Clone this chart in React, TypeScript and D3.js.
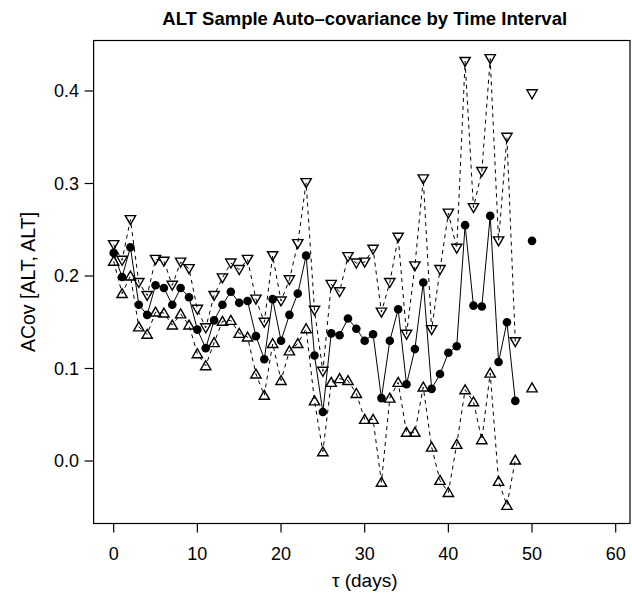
import React from "react";
import * as d3 from "d3";

// lag in days (49 is missing)
const lags = [
  0, 1, 2, 3, 4, 5, 6, 7, 8, 9, 10, 11, 12, 13, 14, 15, 16, 17, 18, 19, 20,
  21, 22, 23, 24, 25, 26, 27, 28, 29, 30, 31, 32, 33, 34, 35, 36, 37, 38, 39,
  40, 41, 42, 43, 44, 45, 46, 47, 48, 49, 50,
];

const acov = [
  0.225, 0.199, 0.231, 0.169, 0.158, 0.19, 0.187, 0.169, 0.187, 0.177, 0.142,
  0.122, 0.152, 0.169, 0.183, 0.171, 0.173, 0.135, 0.11, 0.175, 0.13, 0.158,
  0.181, 0.222, 0.114, 0.053, 0.138, 0.136, 0.154, 0.143, 0.13, 0.137, 0.068,
  0.13, 0.164, 0.083, 0.121, 0.193, 0.078, 0.094, 0.117, 0.124, 0.255, 0.168,
  0.167, 0.265, 0.107, 0.15, 0.065, null, 0.238,
];

const upper = [
  0.234, 0.217, 0.261, 0.193, 0.179, 0.218, 0.216, 0.19, 0.215, 0.208, 0.164,
  0.144, 0.179, 0.198, 0.214, 0.207, 0.218, 0.175, 0.15, 0.222, 0.173, 0.196,
  0.235, 0.301, 0.163, 0.097, 0.191, 0.183, 0.221, 0.214, 0.215, 0.229, 0.161,
  0.193, 0.242, 0.137, 0.211, 0.305, 0.142, 0.207, 0.268, 0.23, 0.432, 0.274,
  0.313, 0.435, 0.238, 0.35, 0.129, null, 0.397,
];

const lower = [
  0.216, 0.181, 0.2, 0.145, 0.137, 0.161, 0.16, 0.147, 0.159, 0.147, 0.116,
  0.103, 0.128, 0.151, 0.152, 0.138, 0.134, 0.094, 0.071, 0.127, 0.087, 0.119,
  0.127, 0.143, 0.065, 0.01, 0.085, 0.089, 0.087, 0.073, 0.045, 0.045, -0.023,
  0.068, 0.085, 0.031, 0.031, 0.08, 0.015, -0.021, -0.034, 0.018, 0.077, 0.064,
  0.023, 0.095, -0.022, -0.048, 0.001, null, 0.079,
];

const xTicks = [0, 10, 20, 30, 40, 50, 60];
const yTicks = [0, 0.1, 0.2, 0.3, 0.4];

const W = 632;
const H = 597;
const box = { left: 93.6, right: 630, top: 40.5, bottom: 523.5 };
const font = "'Liberation Sans', Arial, Helvetica, sans-serif";

const App = () => {
  const x = d3.scaleLinear().domain([0, 60]).range([113.7, 615.7]);
  const y = d3.scaleLinear().domain([0, 0.4]).range([461, 91]);

  const makeLine = (vals: (number | null)[]) =>
    d3
      .line<number>()
      .defined((i) => vals[i] !== null)
      .x((i) => x(lags[i]))
      .y((i) => y(vals[i] as number))(d3.range(lags.length)) || "";

  const tri = d3.symbol(d3.symbolTriangle, 46)() || "";

  return (
    <svg
      width={W}
      height={H}
      style={{ position: "absolute", left: 0, top: 0, background: "#fff" }}
      fontFamily={font}
    >
      <text
        x={(box.left + 635.8) / 2}
        y={25}
        textAnchor="middle"
        fontWeight="bold"
        fontSize={18.5}
      >
        ALT Sample Auto–covariance by Time Interval
      </text>

      <rect
        x={box.left}
        y={box.top}
        width={box.right - box.left}
        height={box.bottom - box.top}
        fill="none"
        stroke="#000"
        strokeWidth={1.2}
      />

      {/* x axis */}
      {xTicks.map((t) => (
        <g key={"x" + t}>
          <line
            x1={x(t)}
            x2={x(t)}
            y1={box.bottom}
            y2={box.bottom + 9}
            stroke="#000"
            strokeWidth={1.2}
          />
          <text x={x(t)} y={560} textAnchor="middle" fontSize={18}>
            {t}
          </text>
        </g>
      ))}
      <text x={(box.left + 635.8) / 2} y={587} textAnchor="middle" fontSize={19}>
        τ (days)
      </text>

      {/* y axis */}
      {yTicks.map((t) => (
        <g key={"y" + t}>
          <line
            x1={box.left - 9}
            x2={box.left}
            y1={y(t)}
            y2={y(t)}
            stroke="#000"
            strokeWidth={1.2}
          />
          <text
            x={79}
            y={y(t)}
            textAnchor="end"
            dominantBaseline="central"
            fontSize={18}
          >
            {t.toFixed(1)}
          </text>
        </g>
      ))}
      <text
        transform={`translate(35, ${(box.top + box.bottom) / 2}) rotate(-90)`}
        textAnchor="middle"
        fontSize={19.5}
      >
        ACov [ALT, ALT]
      </text>

      {/* series */}
      <path d={makeLine(upper)} fill="none" stroke="#000" strokeDasharray="4,4" />
      <path d={makeLine(lower)} fill="none" stroke="#000" strokeDasharray="4,4" />
      <path d={makeLine(acov)} fill="none" stroke="#000" strokeWidth={1} />

      {lags.map((l, i) =>
        upper[i] === null ? null : (
          <path
            key={"u" + l}
            d={tri}
            transform={`translate(${x(l)},${y(upper[i] as number) - 1}) rotate(180)`}
            fill="none"
            stroke="#000"
            strokeWidth={1.4}
          />
        )
      )}
      {lags.map((l, i) =>
        lower[i] === null ? null : (
          <path
            key={"l" + l}
            d={tri}
            transform={`translate(${x(l)},${y(lower[i] as number) + 1})`}
            fill="none"
            stroke="#000"
            strokeWidth={1.4}
          />
        )
      )}
      {lags.map((l, i) =>
        acov[i] === null ? null : (
          <circle key={"c" + l} cx={x(l)} cy={y(acov[i] as number)} r={4.3} fill="#000" />
        )
      )}
    </svg>
  );
};

export default App;
